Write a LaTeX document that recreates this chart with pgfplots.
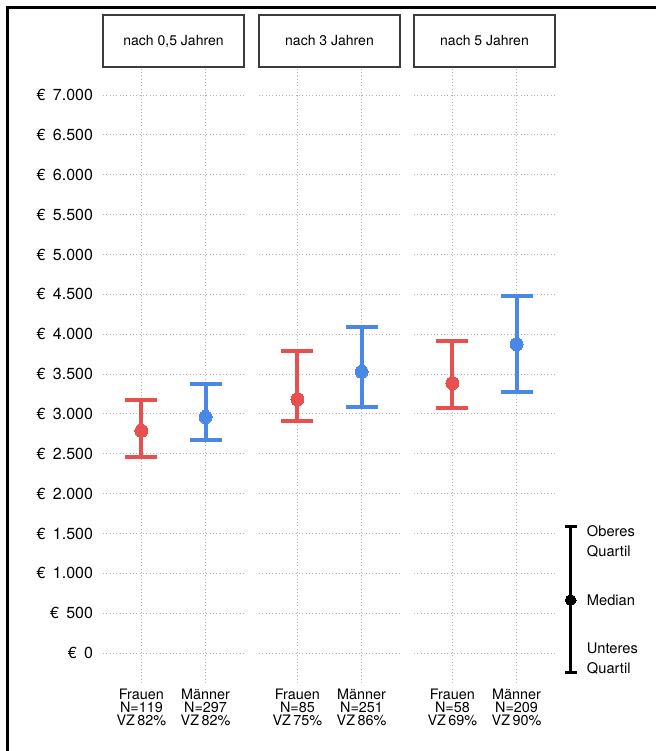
\documentclass[border=0pt]{standalone}
\usepackage{pgfplots}
\pgfplotsset{compat=1.18}
\usepackage{pgfplotstable}
\usepackage{fontspec}
\setmainfont{TeX Gyre Heros}
\definecolor{fred}{RGB}{232,80,80}
\definecolor{mblue}{RGB}{74,136,232}
\definecolor{gridc}{RGB}{180,180,180}
\definecolor{boxc}{RGB}{60,60,60}
\newcommand{\E}[1]{€\hspace{5.5pt}#1}

% x y ep em   (median, upper-median, median-lower)
\pgfplotstableread{
x y ep em
0 2789 385 330
}\pAf
\pgfplotstableread{
x y ep em
1 2961 414 293
}\pAm
\pgfplotstableread{
x y ep em
0 3183 602 270
}\pBf
\pgfplotstableread{
x y ep em
1 3529 557 447
}\pBm
\pgfplotstableread{
x y ep em
0 3387 531 310
}\pCf
\pgfplotstableread{
x y ep em
1 3873 606 603
}\pCm
\pgfplotstableread{
x y ep em
0 665 924 912
}\leg

\pgfplotsset{
  panel/.style={
    scale only axis, width=105.75pt, height=461.25pt,
    xmin=-0.6, xmax=1.6, ymin=-376, ymax=7339,
    axis line style={draw=none}, major tick length=0pt,
    xtick={0,1}, ytick={0,500,...,7000},
    grid=major, grid style={gridc, line width=0.7pt, dash pattern=on 0.7pt off 1.8pt},
    clip=false, anchor=south west,
    xticklabel style={align=center, font=\fontsize{10.8}{10}\selectfont, inner sep=0pt, yshift=-4pt},
    yticklabel style={font=\fontsize{12}{12}\selectfont, xshift=-4pt},
    yticklabels={},
  },
  ebar/.style={only marks, mark=*, mark size=4.9pt, #1, mark options={line width=0pt, fill=#1, draw=#1},
    error bars/.cd, y dir=both, y explicit, error mark=|,
    error bar style={line width=3pt, #1},
    error mark options={#1, line width=3pt, mark size=12pt}},
}

\begin{document}
\begin{tikzpicture}
\useasboundingbox (0,0) rectangle (492pt,563.25pt);
\draw[line width=2.25pt] (5.6pt,0) -- (5.6pt,557.6pt) -- (492pt,557.6pt);

\begin{axis}[panel, name=p1, at={(77.25pt,51pt)},
  yticklabels={\E{0},\E{500},\E{1.000},\E{1.500},\E{2.000},\E{2.500},\E{3.000},\E{3.500},\E{4.000},\E{4.500},\E{5.000},\E{5.500},\E{6.000},\E{6.500},\E{7.000}},
  xticklabels={{Frauen\\N=119\\VZ\,82\%},{Männer\\N=297\\VZ\,82\%}}]
\addplot[ebar=fred] table[x=x,y=y,y error plus=ep,y error minus=em]{\pAf};
\addplot[ebar=mblue] table[x=x,y=y,y error plus=ep,y error minus=em]{\pAm};
\end{axis}

\begin{axis}[panel, name=p2, at={(194.25pt,51pt)},
  xticklabels={{Frauen\\N=85\\VZ\,75\%},{Männer\\N=251\\VZ\,86\%}}]
\addplot[ebar=fred] table[x=x,y=y,y error plus=ep,y error minus=em]{\pBf};
\addplot[ebar=mblue] table[x=x,y=y,y error plus=ep,y error minus=em]{\pBm};
\end{axis}

\begin{axis}[panel, name=p3, at={(310.5pt,51pt)},
  xticklabels={{Frauen\\N=58\\VZ\,69\%},{Männer\\N=209\\VZ\,90\%}}]
\addplot[ebar=fred] table[x=x,y=y,y error plus=ep,y error minus=em]{\pCf};
\addplot[ebar=mblue] table[x=x,y=y,y error plus=ep,y error minus=em]{\pCm};
\end{axis}

\begin{axis}[scale only axis, width=20pt, height=461.25pt, at={(418pt,51pt)}, anchor=south west,
  xmin=-1, xmax=1, ymin=-376, ymax=7339, hide axis, clip=false]
\addplot[only marks, mark=*, mark size=4pt, black, mark options={line width=0pt},
  error bars/.cd, y dir=both, y explicit, error mark=|,
  error bar style={line width=2pt, black},
  error mark options={black, line width=2pt, mark size=4.5pt}]
  table[x=x,y=y,y error plus=ep,y error minus=em]{\leg};
\begin{scope}[every node/.style={anchor=base west, inner sep=0pt, font=\fontsize{11}{12}\selectfont}]
\node at ([xshift=12pt]axis cs:0,1459) {Oberes};
\node at ([xshift=12pt]axis cs:0,1208) {Quartil};
\node at ([xshift=12pt]axis cs:0,602) {Median};
\node at ([xshift=12pt]axis cs:0,0) {Unteres};
\node at ([xshift=12pt]axis cs:0,-251) {Quartil};
\end{scope}
\end{axis}

\foreach \p/\t in {p1/{nach 0,5 Jahren}, p2/{nach 3 Jahren}, p3/{nach 5 Jahren}} {
  \draw[boxc, line width=0.8pt] ([yshift=0.75pt]\p.north west) rectangle ([yshift=39.75pt]\p.north east);
  \node[font=\fontsize{10.5}{12}\selectfont] at ([yshift=20.25pt]\p.north) {\t};
}
\end{tikzpicture}
\end{document}
